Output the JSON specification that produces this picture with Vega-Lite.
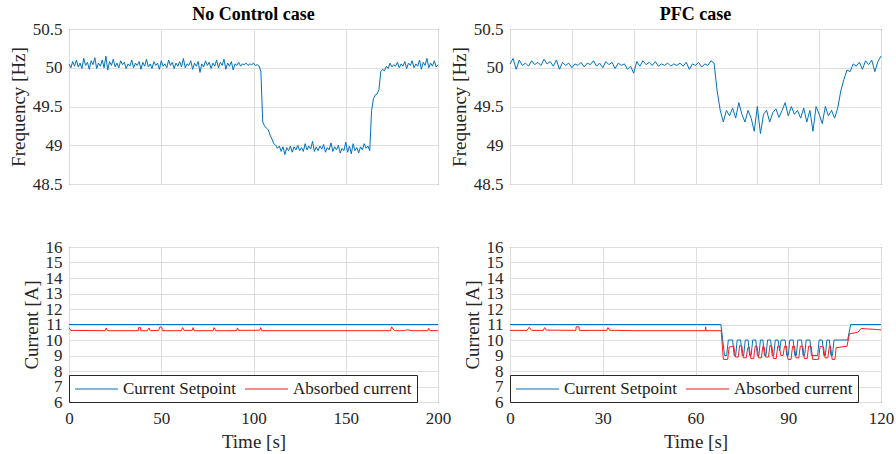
{
"$schema": "https://vega.github.io/schema/vega-lite/v6.json",
"background": "white",
"padding": {"left": 8, "top": 5, "right": 5, "bottom": 5},
"columns": 2,
"bounds": "flush",
"spacing": {"row": 63, "column": 72},
"config": {
 "font": "Liberation Serif",
 "view": {"stroke": "#262626", "strokeWidth": 1},
 "axis": {"labelFont": "Liberation Serif", "labelFontSize": 17, "labelColor": "#262626", "titleFont": "Liberation Serif", "titleFontSize": 19, "titleFontWeight": "normal", "titleColor": "#262626", "gridColor": "#dedede", "gridWidth": 1, "domain": false, "ticks": false, "labelFlush": false, "labelOverlap": false},
 "axisY": {"labelPadding": 7, "titlePadding": 4},
 "axisX": {"labelPadding": 8, "titlePadding": 6},
 "title": {"font": "Liberation Serif", "fontSize": 18, "fontWeight": "bold", "color": "black", "offset": -4},
 "legend": {"labelFont": "Liberation Serif", "labelFontSize": 17, "labelColor": "#1a1a1a", "padding": 5, "columnPadding": 6, "rowPadding": 0, "strokeColor": "#262626", "fillColor": "white", "cornerRadius": 0, "offset": 0}
},
"datasets": {
 "nc_f": [
{"t":0,"f":50.05},{"t":1,"f":50.0},{"t":2,"f":50.08},{"t":3,"f":50.02},{"t":4,"f":50.1},{"t":5,"f":50.01},{"t":6,"f":50.06},{"t":7,"f":49.99},{"t":8,"f":50.12},{"t":9,"f":50.03},
{"t":10,"f":50.07},{"t":11,"f":49.98},{"t":12,"f":50.09},{"t":13,"f":50.04},{"t":14,"f":50.13},{"t":15,"f":49.99},{"t":16,"f":50.06},{"t":17,"f":50.02},{"t":18,"f":50.1},{"t":19,"f":50.0},
{"t":20,"f":50.15},{"t":21,"f":49.97},{"t":22,"f":50.08},{"t":23,"f":50.03},{"t":24,"f":50.11},{"t":25,"f":50.01},{"t":26,"f":50.06},{"t":27,"f":50.0},{"t":28,"f":50.09},{"t":29,"f":50.04},
{"t":30,"f":50.07},{"t":31,"f":49.99},{"t":32,"f":50.05},{"t":33,"f":50.02},{"t":34,"f":50.1},{"t":35,"f":50.0},{"t":36,"f":50.06},{"t":37,"f":50.03},{"t":38,"f":50.08},{"t":39,"f":49.98},
{"t":40,"f":50.07},{"t":41,"f":50.02},{"t":42,"f":50.11},{"t":43,"f":50.01},{"t":44,"f":50.05},{"t":45,"f":49.99},{"t":46,"f":50.08},{"t":47,"f":50.03},{"t":48,"f":50.06},{"t":49,"f":49.98},
{"t":50,"f":50.09},{"t":51,"f":50.02},{"t":52,"f":50.05},{"t":53,"f":50.0},{"t":54,"f":50.1},{"t":55,"f":50.03},{"t":56,"f":50.07},{"t":57,"f":49.99},{"t":58,"f":50.06},{"t":59,"f":50.02},
{"t":60,"f":50.08},{"t":61,"f":50.01},{"t":62,"f":50.12},{"t":63,"f":50.0},{"t":64,"f":50.05},{"t":65,"f":50.03},{"t":66,"f":50.09},{"t":67,"f":49.98},{"t":68,"f":50.06},{"t":69,"f":50.02},
{"t":70,"f":50.08},{"t":71,"f":49.94},{"t":72,"f":50.05},{"t":73,"f":50.01},{"t":74,"f":50.09},{"t":75,"f":50.03},{"t":76,"f":50.07},{"t":77,"f":49.99},{"t":78,"f":50.06},{"t":79,"f":50.02},
{"t":80,"f":50.1},{"t":81,"f":50.0},{"t":82,"f":50.07},{"t":83,"f":50.03},{"t":84,"f":50.11},{"t":85,"f":49.98},{"t":86,"f":50.06},{"t":87,"f":50.02},{"t":88,"f":50.08},{"t":89,"f":49.97},
{"t":90,"f":50.05},{"t":91,"f":50.03},{"t":92,"f":50.07},{"t":93,"f":50.02},{"t":94,"f":50.05},{"t":95,"f":50.04},{"t":96,"f":50.06},{"t":97,"f":50.03},{"t":98,"f":50.05},{"t":99,"f":50.04},
{"t":100,"f":50.06},{"t":101,"f":50.03},{"t":102,"f":50.04},{"t":103,"f":50.02},{"t":104,"f":49.95},{"t":105,"f":49.3},{"t":106,"f":49.25},{"t":107,"f":49.22},{"t":108,"f":49.2},{"t":109,"f":49.13},
{"t":110,"f":49.08},{"t":111,"f":49.02},{"t":112,"f":49.0},{"t":113,"f":48.96},{"t":114,"f":48.99},{"t":115,"f":48.92},{"t":116,"f":48.98},{"t":117,"f":48.88},{"t":118,"f":48.97},{"t":119,"f":48.93},
{"t":120,"f":48.99},{"t":121,"f":48.91},{"t":122,"f":48.98},{"t":123,"f":48.94},{"t":124,"f":49.0},{"t":125,"f":48.93},{"t":126,"f":48.97},{"t":127,"f":48.92},{"t":128,"f":49.02},{"t":129,"f":48.94},
{"t":130,"f":48.99},{"t":131,"f":48.95},{"t":132,"f":49.05},{"t":133,"f":48.92},{"t":134,"f":48.98},{"t":135,"f":48.93},{"t":136,"f":48.99},{"t":137,"f":48.95},{"t":138,"f":49.01},{"t":139,"f":48.91},
{"t":140,"f":48.97},{"t":141,"f":48.94},{"t":142,"f":49.03},{"t":143,"f":48.92},{"t":144,"f":48.98},{"t":145,"f":48.94},{"t":146,"f":49.0},{"t":147,"f":48.9},{"t":148,"f":48.96},{"t":149,"f":48.93},
{"t":150,"f":49.04},{"t":151,"f":48.91},{"t":152,"f":48.99},{"t":153,"f":48.89},{"t":154,"f":49.02},{"t":155,"f":48.93},{"t":156,"f":48.97},{"t":157,"f":48.9},{"t":158,"f":48.98},{"t":159,"f":48.94},
{"t":160,"f":49.02},{"t":161,"f":48.96},{"t":162,"f":48.99},{"t":163,"f":48.93},{"t":164,"f":49.45},{"t":165,"f":49.6},{"t":166,"f":49.65},{"t":167,"f":49.66},{"t":168,"f":49.72},{"t":169,"f":49.95},
{"t":170,"f":49.98},{"t":171,"f":49.96},{"t":172,"f":50.02},{"t":173,"f":49.99},{"t":174,"f":50.06},{"t":175,"f":50.01},{"t":176,"f":50.04},{"t":177,"f":50.02},{"t":178,"f":50.07},{"t":179,"f":50.0},
{"t":180,"f":50.05},{"t":181,"f":50.02},{"t":182,"f":50.08},{"t":183,"f":49.99},{"t":184,"f":50.06},{"t":185,"f":50.03},{"t":186,"f":50.09},{"t":187,"f":50.0},{"t":188,"f":50.05},{"t":189,"f":50.02},
{"t":190,"f":50.1},{"t":191,"f":49.98},{"t":192,"f":50.07},{"t":193,"f":50.03},{"t":194,"f":50.12},{"t":195,"f":50.0},{"t":196,"f":50.06},{"t":197,"f":50.02},{"t":198,"f":50.09},{"t":199,"f":50.01},
{"t":200,"f":50.04}
 ],
 "pfc_f": [
{"t":0,"f":50.05},{"t":1,"f":50.12},{"t":2,"f":49.98},{"t":3,"f":50.1},{"t":4,"f":50.03},{"t":5,"f":50.06},{"t":6,"f":50.02},{"t":7,"f":50.09},{"t":8,"f":50.04},{"t":9,"f":50.07},
{"t":10,"f":50.03},{"t":11,"f":50.11},{"t":12,"f":50.05},{"t":13,"f":50.08},{"t":14,"f":50.02},{"t":15,"f":50.1},{"t":16,"f":49.98},{"t":17,"f":50.07},{"t":18,"f":50.03},{"t":19,"f":50.06},
{"t":20,"f":50.0},{"t":21,"f":50.05},{"t":22,"f":50.03},{"t":23,"f":50.07},{"t":24,"f":50.01},{"t":25,"f":50.06},{"t":26,"f":50.04},{"t":27,"f":50.09},{"t":28,"f":50.02},{"t":29,"f":50.06},
{"t":30,"f":50.0},{"t":31,"f":50.08},{"t":32,"f":50.04},{"t":33,"f":50.07},{"t":34,"f":49.99},{"t":35,"f":50.06},{"t":36,"f":50.03},{"t":37,"f":50.05},{"t":38,"f":49.98},{"t":39,"f":50.02},
{"t":40,"f":49.93},{"t":41,"f":50.08},{"t":42,"f":50.02},{"t":43,"f":50.09},{"t":44,"f":50.04},{"t":45,"f":50.07},{"t":46,"f":50.03},{"t":47,"f":50.08},{"t":48,"f":50.02},{"t":49,"f":50.05},
{"t":50,"f":50.03},{"t":51,"f":50.06},{"t":52,"f":50.02},{"t":53,"f":50.05},{"t":54,"f":50.03},{"t":55,"f":50.06},{"t":56,"f":50.02},{"t":57,"f":50.07},{"t":58,"f":49.98},{"t":59,"f":50.05},
{"t":60,"f":50.03},{"t":61,"f":50.07},{"t":62,"f":50.01},{"t":63,"f":50.05},{"t":64,"f":50.03},{"t":65,"f":50.09},{"t":66,"f":50.06},{"t":67,"f":49.7},{"t":68,"f":49.45},{"t":69,"f":49.3},
{"t":70,"f":49.45},{"t":71,"f":49.38},{"t":72,"f":49.48},{"t":73,"f":49.35},{"t":74,"f":49.55},{"t":75,"f":49.4},{"t":76,"f":49.3},{"t":77,"f":49.45},{"t":78,"f":49.35},{"t":79,"f":49.18},
{"t":80,"f":49.5},{"t":81,"f":49.15},{"t":82,"f":49.4},{"t":83,"f":49.45},{"t":84,"f":49.3},{"t":85,"f":49.42},{"t":86,"f":49.47},{"t":87,"f":49.36},{"t":88,"f":49.45},{"t":89,"f":49.55},
{"t":90,"f":49.38},{"t":91,"f":49.5},{"t":92,"f":49.4},{"t":93,"f":49.45},{"t":94,"f":49.35},{"t":95,"f":49.48},{"t":96,"f":49.3},{"t":97,"f":49.45},{"t":98,"f":49.18},{"t":99,"f":49.5},
{"t":100,"f":49.4},{"t":101,"f":49.28},{"t":102,"f":49.5},{"t":103,"f":49.38},{"t":104,"f":49.45},{"t":105,"f":49.35},{"t":106,"f":49.48},{"t":107,"f":49.7},{"t":108,"f":49.85},{"t":109,"f":49.97},
{"t":110,"f":49.95},{"t":111,"f":50.05},{"t":112,"f":50.02},{"t":113,"f":50.07},{"t":114,"f":49.98},{"t":115,"f":50.09},{"t":116,"f":50.04},{"t":117,"f":50.1},{"t":118,"f":49.95},{"t":119,"f":50.08},
{"t":120,"f":50.15}
 ],
 "nc_i": [
{"t":0,"v":11,"s":"Current Setpoint"},{"t":200,"v":11,"s":"Current Setpoint"},
{"t":0,"v":10.8,"s":"Absorbed current"},{"t":1,"v":10.62,"s":"Absorbed current"},{"t":19.5,"v":10.6,"s":"Absorbed current"},{"t":20.2,"v":10.78,"s":"Absorbed current"},{"t":20.8,"v":10.6,"s":"Absorbed current"},
{"t":37.6,"v":10.6,"s":"Absorbed current"},{"t":37.7,"v":10.8,"s":"Absorbed current"},{"t":38.8,"v":10.8,"s":"Absorbed current"},{"t":38.9,"v":10.6,"s":"Absorbed current"},
{"t":42.5,"v":10.6,"s":"Absorbed current"},{"t":43.3,"v":10.78,"s":"Absorbed current"},{"t":44,"v":10.6,"s":"Absorbed current"},
{"t":48.6,"v":10.62,"s":"Absorbed current"},{"t":49.3,"v":10.85,"s":"Absorbed current"},{"t":50.3,"v":10.82,"s":"Absorbed current"},{"t":50.6,"v":10.6,"s":"Absorbed current"},
{"t":60.8,"v":10.6,"s":"Absorbed current"},{"t":61.6,"v":10.8,"s":"Absorbed current"},{"t":62.4,"v":10.62,"s":"Absorbed current"},
{"t":66.8,"v":10.62,"s":"Absorbed current"},{"t":67.3,"v":10.8,"s":"Absorbed current"},{"t":67.8,"v":10.6,"s":"Absorbed current"},
{"t":78.1,"v":10.6,"s":"Absorbed current"},{"t":78.6,"v":10.8,"s":"Absorbed current"},{"t":79.1,"v":10.7,"s":"Absorbed current"},{"t":79.5,"v":10.6,"s":"Absorbed current"},
{"t":90.8,"v":10.6,"s":"Absorbed current"},{"t":91.3,"v":10.78,"s":"Absorbed current"},{"t":91.9,"v":10.62,"s":"Absorbed current"},
{"t":103.4,"v":10.63,"s":"Absorbed current"},{"t":103.9,"v":10.8,"s":"Absorbed current"},{"t":104.4,"v":10.6,"s":"Absorbed current"},
{"t":174.2,"v":10.6,"s":"Absorbed current"},{"t":174.9,"v":10.85,"s":"Absorbed current"},{"t":175.7,"v":10.7,"s":"Absorbed current"},{"t":176.5,"v":10.6,"s":"Absorbed current"},
{"t":182,"v":10.6,"s":"Absorbed current"},{"t":183,"v":10.66,"s":"Absorbed current"},{"t":186,"v":10.6,"s":"Absorbed current"},
{"t":194.4,"v":10.6,"s":"Absorbed current"},{"t":194.9,"v":10.75,"s":"Absorbed current"},{"t":195.5,"v":10.6,"s":"Absorbed current"},{"t":200,"v":10.6,"s":"Absorbed current"}
 ],
 "pfc_i": [
{"t":0,"v":11,"s":"Current Setpoint"},{"t":68.2,"v":11,"s":"Current Setpoint"},{"t":68.8,"v":10,"s":"Current Setpoint"},{"t":69.4,"v":9,"s":"Current Setpoint"},{"t":70.1,"v":9,"s":"Current Setpoint"},{"t":70.6,"v":10,"s":"Current Setpoint"},
{"t":72.0,"v":10,"s":"Current Setpoint"},{"t":72.5,"v":9,"s":"Current Setpoint"},{"t":73.0,"v":9,"s":"Current Setpoint"},{"t":73.5,"v":10,"s":"Current Setpoint"},
{"t":74.6,"v":10,"s":"Current Setpoint"},{"t":75.1,"v":9,"s":"Current Setpoint"},{"t":75.6,"v":9,"s":"Current Setpoint"},{"t":76.1,"v":10,"s":"Current Setpoint"},
{"t":77.0,"v":10,"s":"Current Setpoint"},{"t":77.5,"v":9,"s":"Current Setpoint"},{"t":78.0,"v":9,"s":"Current Setpoint"},{"t":78.5,"v":10,"s":"Current Setpoint"},
{"t":79.5,"v":10,"s":"Current Setpoint"},{"t":80.0,"v":9,"s":"Current Setpoint"},{"t":80.5,"v":9,"s":"Current Setpoint"},{"t":81.0,"v":10,"s":"Current Setpoint"},
{"t":81.8,"v":10,"s":"Current Setpoint"},{"t":82.3,"v":9,"s":"Current Setpoint"},{"t":82.8,"v":9,"s":"Current Setpoint"},{"t":83.3,"v":10,"s":"Current Setpoint"},
{"t":84.3,"v":10,"s":"Current Setpoint"},{"t":84.8,"v":9,"s":"Current Setpoint"},{"t":85.3,"v":9,"s":"Current Setpoint"},{"t":85.8,"v":10,"s":"Current Setpoint"},
{"t":86.7,"v":10,"s":"Current Setpoint"},{"t":87.2,"v":9.3,"s":"Current Setpoint"},{"t":87.7,"v":10,"s":"Current Setpoint"},
{"t":89.0,"v":10,"s":"Current Setpoint"},{"t":89.5,"v":9,"s":"Current Setpoint"},{"t":90.0,"v":9,"s":"Current Setpoint"},{"t":90.5,"v":10,"s":"Current Setpoint"},
{"t":91.6,"v":10,"s":"Current Setpoint"},{"t":92.1,"v":9,"s":"Current Setpoint"},{"t":92.6,"v":9,"s":"Current Setpoint"},{"t":93.1,"v":10,"s":"Current Setpoint"},
{"t":94.3,"v":10,"s":"Current Setpoint"},{"t":94.8,"v":9,"s":"Current Setpoint"},{"t":95.3,"v":9,"s":"Current Setpoint"},{"t":95.8,"v":10,"s":"Current Setpoint"},
{"t":97.0,"v":10,"s":"Current Setpoint"},{"t":97.5,"v":9,"s":"Current Setpoint"},{"t":99.5,"v":9,"s":"Current Setpoint"},{"t":100.0,"v":10,"s":"Current Setpoint"},
{"t":101.0,"v":10,"s":"Current Setpoint"},{"t":101.5,"v":9,"s":"Current Setpoint"},{"t":102.0,"v":9,"s":"Current Setpoint"},{"t":102.5,"v":10,"s":"Current Setpoint"},
{"t":103.3,"v":10,"s":"Current Setpoint"},{"t":103.8,"v":9,"s":"Current Setpoint"},{"t":104.3,"v":9,"s":"Current Setpoint"},{"t":104.8,"v":10,"s":"Current Setpoint"},
{"t":109.2,"v":10,"s":"Current Setpoint"},{"t":110.2,"v":11,"s":"Current Setpoint"},{"t":120,"v":11,"s":"Current Setpoint"},
{"t":0,"v":10.62,"s":"Absorbed current"},{"t":5.5,"v":10.62,"s":"Absorbed current"},{"t":6.2,"v":10.82,"s":"Absorbed current"},{"t":7,"v":10.62,"s":"Absorbed current"},
{"t":10.8,"v":10.62,"s":"Absorbed current"},{"t":11.2,"v":10.8,"s":"Absorbed current"},{"t":11.7,"v":10.64,"s":"Absorbed current"},
{"t":21.3,"v":10.62,"s":"Absorbed current"},{"t":21.4,"v":10.85,"s":"Absorbed current"},{"t":22.3,"v":10.85,"s":"Absorbed current"},{"t":22.4,"v":10.62,"s":"Absorbed current"},
{"t":31.2,"v":10.62,"s":"Absorbed current"},{"t":31.7,"v":10.8,"s":"Absorbed current"},{"t":32.2,"v":10.63,"s":"Absorbed current"},
{"t":40,"v":10.6,"s":"Absorbed current"},{"t":55,"v":10.6,"s":"Absorbed current"},{"t":63.2,"v":10.6,"s":"Absorbed current"},{"t":63.3,"v":10.85,"s":"Absorbed current"},{"t":63.4,"v":10.6,"s":"Absorbed current"},
{"t":68.3,"v":10.6,"s":"Absorbed current"},{"t":69.0,"v":8.75,"s":"Absorbed current"},{"t":70.4,"v":8.75,"s":"Absorbed current"},{"t":70.9,"v":9.55,"s":"Absorbed current"},
{"t":72.4,"v":9.6,"s":"Absorbed current"},{"t":72.9,"v":8.9,"s":"Absorbed current"},{"t":73.8,"v":8.9,"s":"Absorbed current"},{"t":74.3,"v":9.65,"s":"Absorbed current"},
{"t":75.0,"v":9.6,"s":"Absorbed current"},{"t":75.5,"v":8.85,"s":"Absorbed current"},{"t":76.4,"v":8.85,"s":"Absorbed current"},{"t":76.9,"v":9.5,"s":"Absorbed current"},
{"t":77.4,"v":9.55,"s":"Absorbed current"},{"t":77.9,"v":8.8,"s":"Absorbed current"},{"t":78.8,"v":8.8,"s":"Absorbed current"},{"t":79.3,"v":9.6,"s":"Absorbed current"},
{"t":79.9,"v":9.6,"s":"Absorbed current"},{"t":80.4,"v":8.85,"s":"Absorbed current"},{"t":81.3,"v":8.85,"s":"Absorbed current"},{"t":81.8,"v":9.6,"s":"Absorbed current"},
{"t":82.2,"v":9.55,"s":"Absorbed current"},{"t":82.7,"v":8.9,"s":"Absorbed current"},{"t":83.6,"v":8.9,"s":"Absorbed current"},{"t":84.1,"v":9.65,"s":"Absorbed current"},
{"t":84.7,"v":9.6,"s":"Absorbed current"},{"t":85.2,"v":8.8,"s":"Absorbed current"},{"t":86.1,"v":8.8,"s":"Absorbed current"},{"t":86.6,"v":9.6,"s":"Absorbed current"},
{"t":87.1,"v":9.6,"s":"Absorbed current"},{"t":87.6,"v":9.0,"s":"Absorbed current"},{"t":88.3,"v":9.0,"s":"Absorbed current"},{"t":88.8,"v":9.6,"s":"Absorbed current"},
{"t":89.4,"v":9.6,"s":"Absorbed current"},{"t":89.9,"v":8.75,"s":"Absorbed current"},{"t":90.9,"v":8.75,"s":"Absorbed current"},{"t":91.4,"v":9.6,"s":"Absorbed current"},
{"t":92.0,"v":9.6,"s":"Absorbed current"},{"t":92.5,"v":8.85,"s":"Absorbed current"},{"t":93.4,"v":8.85,"s":"Absorbed current"},{"t":93.9,"v":9.6,"s":"Absorbed current"},
{"t":94.7,"v":9.6,"s":"Absorbed current"},{"t":95.2,"v":8.8,"s":"Absorbed current"},{"t":96.1,"v":8.8,"s":"Absorbed current"},{"t":96.6,"v":9.6,"s":"Absorbed current"},
{"t":97.4,"v":9.6,"s":"Absorbed current"},{"t":97.9,"v":8.75,"s":"Absorbed current"},{"t":99.8,"v":8.75,"s":"Absorbed current"},{"t":100.3,"v":9.6,"s":"Absorbed current"},
{"t":101.4,"v":9.55,"s":"Absorbed current"},{"t":101.9,"v":8.85,"s":"Absorbed current"},{"t":102.8,"v":8.85,"s":"Absorbed current"},{"t":103.3,"v":9.6,"s":"Absorbed current"},
{"t":103.7,"v":9.6,"s":"Absorbed current"},{"t":104.2,"v":8.75,"s":"Absorbed current"},{"t":105.1,"v":8.75,"s":"Absorbed current"},{"t":105.5,"v":9.5,"s":"Absorbed current"},
{"t":109.0,"v":9.6,"s":"Absorbed current"},{"t":109.8,"v":10.4,"s":"Absorbed current"},{"t":112.5,"v":10.5,"s":"Absorbed current"},{"t":113.6,"v":10.75,"s":"Absorbed current"},
{"t":115,"v":10.72,"s":"Absorbed current"},{"t":118.5,"v":10.68,"s":"Absorbed current"},{"t":120,"v":10.65,"s":"Absorbed current"}
 ]
},
"concat": [
 {
  "width": 369, "height": 155,
  "title": "No Control case",
  "data": {"name": "nc_f"},
  "mark": {"type": "line", "color": "#0072BD", "strokeWidth": 1},
  "encoding": {
   "x": {"field": "t", "type": "quantitative", "scale": {"domain": [0, 200], "nice": false}, "axis": {"values": [0, 50, 100, 150, 200], "labels": false, "title": null}},
   "y": {"field": "f", "type": "quantitative", "scale": {"domain": [48.5, 50.5], "nice": false, "zero": false}, "axis": {"values": [48.5, 49, 49.5, 50, 50.5], "format": "~f", "title": "Frequency [Hz]", "labelFont": "Liberation Serif"}}
  }
 },
 {
  "width": 371, "height": 155,
  "title": "PFC case",
  "data": {"name": "pfc_f"},
  "mark": {"type": "line", "color": "#0072BD", "strokeWidth": 1},
  "encoding": {
   "x": {"field": "t", "type": "quantitative", "scale": {"domain": [0, 120], "nice": false}, "axis": {"values": [0, 20, 40, 60, 80, 100, 120], "labels": false, "title": null}},
   "y": {"field": "f", "type": "quantitative", "scale": {"domain": [48.5, 50.5], "nice": false, "zero": false}, "axis": {"values": [48.5, 49, 49.5, 50, 50.5], "format": "~f", "title": "Frequency [Hz]", "labelFont": "Liberation Serif"}}
  }
 },
 {
  "width": 369, "height": 155,
  "data": {"name": "nc_i"},
  "mark": {"type": "line", "strokeWidth": 1},
  "encoding": {
   "x": {"field": "t", "type": "quantitative", "scale": {"domain": [0, 200], "nice": false}, "axis": {"values": [0, 50, 100, 150, 200], "title": "Time [s]", "labelFont": "Liberation Serif"}},
   "y": {"field": "v", "type": "quantitative", "scale": {"domain": [6, 16], "nice": false, "zero": false}, "axis": {"values": [6, 7, 8, 9, 10, 11, 12, 13, 14, 15, 16], "title": "Current [A]", "labelFont": "Liberation Serif"}},
   "color": {"field": "s", "type": "nominal", "scale": {"domain": ["Current Setpoint", "Absorbed current"], "range": ["#0072BD", "#FF1A1A"]}, "legend": {"title": null, "orient": "bottom-left", "direction": "horizontal", "labelFont": "Liberation Serif", "symbolType": "M-1,0H4.375", "symbolSize": 256, "symbolStrokeWidth": 1.2, "labelOffset": 31}}
  }
 },
 {
  "width": 371, "height": 155,
  "data": {"name": "pfc_i"},
  "mark": {"type": "line", "strokeWidth": 1},
  "encoding": {
   "x": {"field": "t", "type": "quantitative", "scale": {"domain": [0, 120], "nice": false}, "axis": {"values": [0, 30, 60, 90, 120], "title": "Time [s]", "labelFont": "Liberation Serif"}},
   "y": {"field": "v", "type": "quantitative", "scale": {"domain": [6, 16], "nice": false, "zero": false}, "axis": {"values": [6, 7, 8, 9, 10, 11, 12, 13, 14, 15, 16], "title": "Current [A]", "labelFont": "Liberation Serif"}},
   "color": {"field": "s", "type": "nominal", "scale": {"domain": ["Current Setpoint", "Absorbed current"], "range": ["#0072BD", "#FF1A1A"]}, "legend": {"title": null, "orient": "bottom-left", "direction": "horizontal", "labelFont": "Liberation Serif", "symbolType": "M-1,0H4.375", "symbolSize": 256, "symbolStrokeWidth": 1.2, "labelOffset": 31}}
  }
 }
],
"resolve": {"scale": {"color": "independent"}, "legend": {"color": "independent"}}
}
